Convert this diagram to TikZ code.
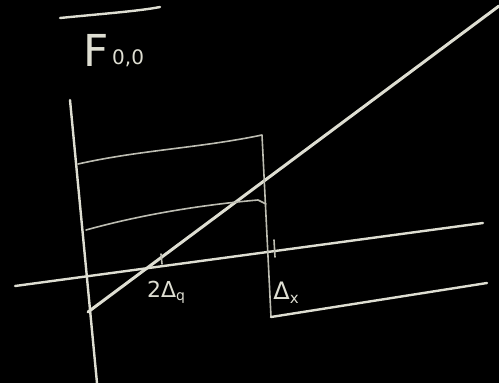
\documentclass[tikz,border=0pt]{standalone}
\usepackage{fontspec}
\setmainfont{DejaVu Sans}
\begin{document}
\begin{tikzpicture}[x=1pt,y=-1pt,
  chalk/.style={draw=chalkc,line width=2.4pt,line cap=round,line join=round},
  thinchalk/.style={draw=chalkc!85!black,line width=1.6pt,line cap=round,line join=round},
  lbl/.style={text=chalkc,inner sep=0pt}]
\definecolor{chalkc}{RGB}{222,222,210}
\fill[black] (0,0) rectangle (499,383);
\useasboundingbox (0,0) rectangle (499,383);
% title bar and label
\coordinate (barL) at (60,18);
\coordinate (barR) at (160,7);
\draw[chalk] (barL) .. controls (100,14) and (140,11) .. (barR);
\node[lbl,font=\fontsize{44}{44}\selectfont] (F) at (96,50) {F};
\node[lbl,font=\fontsize{20}{20}\selectfont,anchor=west] (sub) at (112,58) {0,0};
% vertical axis
\coordinate (vaT) at (70,100);
\coordinate (vaB) at (97,383);
\draw[chalk] (vaT) -- (vaB);
% horizontal axis
\coordinate (haL) at (15,286);
\coordinate (haR) at (483,223);
\draw[chalk] (haL) -- (haR);
% diagonal
\coordinate (dgL) at (88,312);
\coordinate (dgR) at (499,6);
\draw[chalk,line width=3pt] (dgL) -- (dgR);
% upper box
\coordinate (b1) at (78,164);
\coordinate (b2) at (262,135);
\coordinate (b3) at (271,317);
\draw[thinchalk] (b1) .. controls (140,150) and (200,148) .. (b2) -- (b3);
% second line
\coordinate (c1) at (86,230);
\coordinate (c2) at (258,200);
\coordinate (c3) at (266,204);
\draw[thinchalk] (c1) .. controls (140,215) and (200,205) .. (c2) -- (c3);
% bottom line
\coordinate (bt) at (487,283);
\draw[chalk] (b3) -- (bt);
% ticks
\coordinate (t1a) at (161,254);
\coordinate (t1b) at (162,264);
\draw[thinchalk] (t1a) -- (t1b);
\coordinate (t2a) at (274,240);
\coordinate (t2b) at (275,257);
\draw[thinchalk] (t2a) -- (t2b);
% labels
\node[lbl,font=\fontsize{22}{22}\selectfont] (dq) at (166,292) {2Δ\raisebox{-3pt}{\fontsize{14}{14}\selectfont q}};
\node[lbl,font=\fontsize{24}{24}\selectfont] (dx) at (286,293) {Δ\raisebox{-4pt}{\fontsize{15}{15}\selectfont x}};
\end{tikzpicture}
\end{document}
